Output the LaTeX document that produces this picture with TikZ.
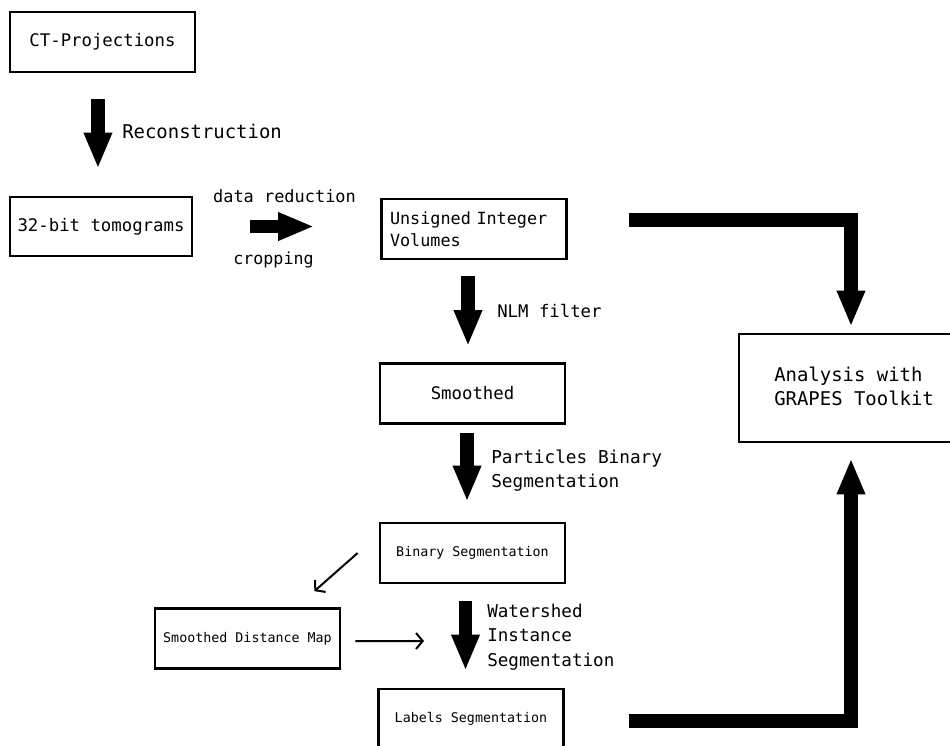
\documentclass[tikz,border=0pt]{standalone}
\usepackage{fontspec}
\setmonofont{DejaVu Sans Mono}
\usetikzlibrary{arrows.meta}

\begin{document}
\begin{tikzpicture}[x=0.75pt,y=-0.75pt,
  normtxt/.style={font=\ttfamily\fontsize{13}{16}\selectfont},
  smalltxt/.style={font=\ttfamily\fontsize{10}{12}\selectfont},
  bigtxt/.style={font=\ttfamily\fontsize{14.2}{18}\selectfont},
  box/.style={draw,line width=2pt,minimum width=138.75pt,minimum height=45pt,inner sep=0pt},
  lbl/.style={normtxt,inner sep=0pt},
  bigarrow/.style={line width=10pt,-{Triangle[length=27pt,width=19.5pt]}},
  thinarrow/.style={line width=1.5pt,-{Straight Barb[length=5pt,width=12pt]}}]
 \useasboundingbox (0,0) rectangle (950,746);
 \node[box,normtxt] (ct) at (102.5,42) {CT-Projections};
 \node[box,normtxt,minimum width=136.5pt,minimum height=44.25pt] (tomo) at (101,226.5) {32-bit tomograms};
 \node[box,font=\ttfamily\fontsize{12.6}{16.5}\selectfont,text width=126pt,align=left] (uint) at (474,229) {Unsigned Integer\\Volumes};
 \node[box,normtxt] (smooth) at (472.5,393.5) {Smoothed};
 \node[box,smalltxt] (binseg) at (472.5,553) {Binary Segmentation};
 \node[box,smalltxt] (sdm) at (247.5,638.5) {Smoothed Distance Map};
 \node[box,smalltxt] (labseg) at (471,719) {Labels Segmentation};
 \node[box,minimum width=168pt,minimum height=81pt] (ana) at (851,388) {};
 \node[bigtxt,align=left,anchor=west,inner sep=0pt] (anatxt) at (774,386) {Analysis with\\GRAPES Toolkit};
 \node[bigtxt,inner sep=0pt,anchor=base west] (lrec) at (122,138) {Reconstruction};
 \node[lbl,font=\ttfamily\fontsize{12.7}{16}\selectfont,anchor=base] (lred) at (284.5,202) {data reduction};
 \node[lbl,font=\ttfamily\fontsize{12.5}{16}\selectfont,anchor=base] (lcrop) at (273.5,264) {cropping};
 \node[lbl,anchor=base west] (lnlm) at (497,317) {NLM filter};
 \node[lbl,font=\ttfamily\fontsize{13.3}{18}\selectfont,align=left,anchor=west] (lpart) at (491,471) {Particles Binary\\Segmentation};
 \node[lbl,font=\ttfamily\fontsize{13.2}{18.4}\selectfont,align=left,anchor=west] (lwater) at (487,637) {Watershed\\Instance\\Segmentation};
 \coordinate (wsin) at (424,641);
 \draw[bigarrow,shorten <=19.5pt,shorten >=20.25pt] ([xshift=-3.4pt]ct.south) -- ([xshift=-3.4pt]ct.south |- tomo.north);
 \draw[bigarrow,shorten <=42.75pt,shorten >=49.5pt] (tomo.east) -- (tomo.east -| uint.west);
 \draw[bigarrow,shorten <=12pt,shorten >=12pt] ([xshift=-4.5pt]uint.south) -- ([xshift=-4.5pt]uint.south |- smooth.north);
 \draw[bigarrow,shorten <=6.4pt,shorten >=15pt] ([xshift=-4.1pt]smooth.south) -- ([xshift=-4.1pt]smooth.south |- binseg.north);
 \draw[bigarrow,shorten <=12.75pt,shorten >=12.75pt] ([xshift=-5.25pt]binseg.south) -- ([xshift=-5.25pt]binseg.south |- labseg.north);
 \draw[bigarrow,shorten <=45.75pt,shorten >=4.5pt] ([yshift=6.75pt]uint.east) -| (ana.north);
 \draw[bigarrow,shorten <=48pt,shorten >=11.25pt] ([yshift=-1.5pt]labseg.east) -| (ana.south);
 \draw[thinarrow] ([xshift=-15.75pt]binseg.west) -- ([xshift=-20.25pt,yshift=12pt]sdm.north east);
 \draw[thinarrow,shorten <=10.5pt] ([yshift=-1.9pt]sdm.east) -- (wsin);
\end{tikzpicture}
\end{document}
